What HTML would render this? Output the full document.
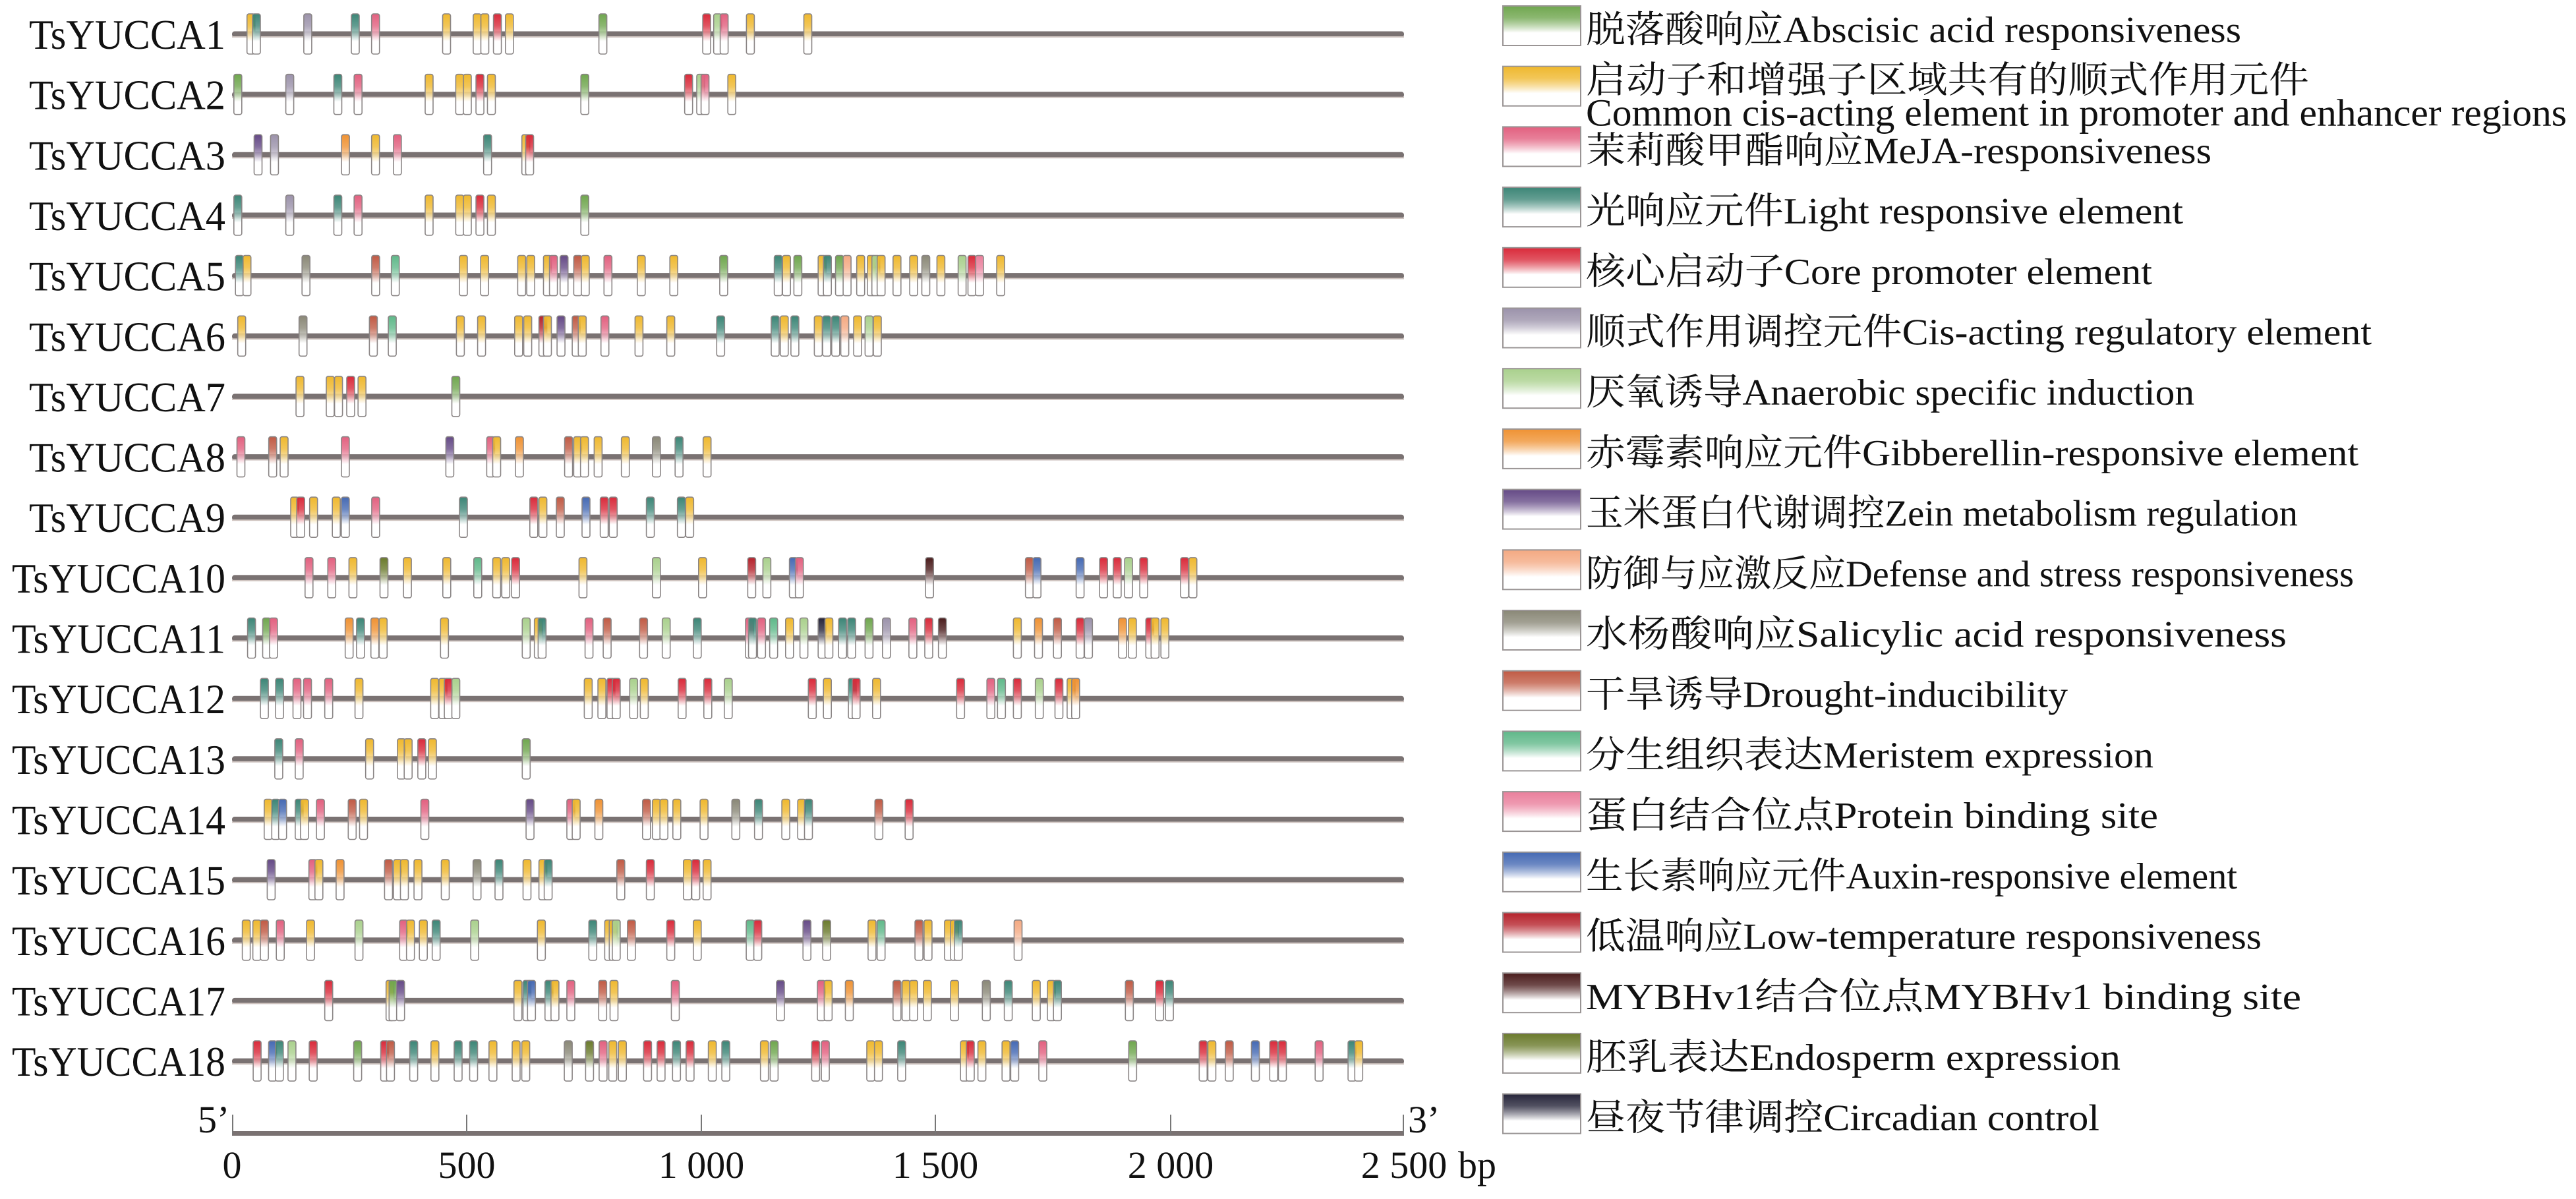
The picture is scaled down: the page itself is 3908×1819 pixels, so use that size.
<!DOCTYPE html>
<html><head><meta charset="utf-8">
<style>
html,body{margin:0;padding:0;background:#fff;}
svg{display:block;}
text{font-family:"Liberation Serif","Noto Serif CJK SC",serif;fill:#111;}
</style></head>
<body>
<svg id="s" width="3908" height="1819" viewBox="0 0 3908 1819" xmlns="http://www.w3.org/2000/svg">
<defs id="d"></defs>
<g id="rows"></g>
<g id="leg"></g>
<g id="axis">
  <rect x="352" y="1716" width="1778" height="7" fill="#7a7272"/>
  <rect x="352" y="1691" width="2" height="30" fill="#777"/>
  <rect x="707" y="1691" width="2" height="30" fill="#777"/>
  <rect x="1063" y="1691" width="2" height="30" fill="#777"/>
  <rect x="1418" y="1691" width="2" height="30" fill="#777"/>
  <rect x="1775" y="1691" width="2" height="30" fill="#777"/>
  <rect x="2128" y="1691" width="2" height="30" fill="#777"/>
  <text x="300" y="1718" font-size="58">5’</text>
  <text x="2136" y="1718" font-size="58">3’</text>
  <text x="352" y="1787" font-size="58" text-anchor="middle">0</text>
  <text x="708" y="1787" font-size="58" text-anchor="middle">500</text>
  <text x="1064" y="1787" font-size="58" text-anchor="middle">1 000</text>
  <text x="1419" y="1787" font-size="58" text-anchor="middle">1 500</text>
  <text x="1776" y="1787" font-size="58" text-anchor="middle">2 000</text>
  <text x="2130" y="1787" font-size="58" text-anchor="middle">2 500</text>
  <text x="2212" y="1787" font-size="58">bp</text>
</g>
</svg>
<script>
(function(){
var C={g:'#6fa64e',y:'#efb82e',p:'#e2607f',t:'#3c8576',r:'#d92a3a',v:'#9b92aa',lg:'#a9d08c',o:'#ef9233',pu:'#654a86',pe:'#f4a982',s:'#8a8877',d:'#c05a44',m:'#5fb889',pb:'#ea7f9c',b:'#4569b3',lt:'#b5222b',my:'#4a1c1c',e:'#6a7a2c',c:'#26253a'};
var NS='http://www.w3.org/2000/svg';
var defs=document.getElementById('d');
for(var k in C){
  var lgd=document.createElementNS(NS,'linearGradient');
  lgd.setAttribute('id','G'+k);lgd.setAttribute('x1','0');lgd.setAttribute('y1','0');lgd.setAttribute('x2','0');lgd.setAttribute('y2','1');
  lgd.innerHTML='<stop offset="0" stop-color="'+C[k]+'"/><stop offset="0.3" stop-color="'+C[k]+'" stop-opacity="0.8"/><stop offset="0.68" stop-color="#fff"/><stop offset="1" stop-color="#fff"/>';
  defs.appendChild(lgd);
}
var R=[
 [0,0.829,"452 y,462 t,556 v,643 t,680 p,810 y,866 y,880 y,903 r,925 y,1096 g,1286 r,1306 lg,1318 p,1366 y,1471 y"],
 [0,0.829,"428 g,523 v,611 t,648 p,778 y,834 y,848 y,871 r,892 y,1063 g,1253 r,1275 lg,1283 p,1332 y"],
 [0,0.829,"465 pu,495 v,625 o,680 y,720 p,885 t,955 y,962 r"],
 [0,0.829,"428 t,523 v,611 t,648 p,778 y,834 y,848 y,871 r,892 y,1063 g"],
 [340,1.148,"15 t,25 y,103 s,195 d,221 m,311 y,339 y,388 y,400 y,422 y,430 p,444 pu,462 d,472 y,502 p,546 y,589 y,655 g,727 t,738 y,753 g,785 y,792 t,808 g,818 pe,836 y,850 y,856 lg,863 y,884 y,906 y,922 s,942 y,970 lg,983 r,993 pb,1021 y"],
 [340,1.148,"18 y,99 s,192 d,217 m,307 y,335 y,384 y,396 y,416 lt,422 y,440 pu,460 d,468 y,498 p,543 y,585 y,651 t,723 t,735 y,749 t,780 y,791 t,803 t,815 pe,832 y,847 lg,858 y"],
 [340,1.148,"95 y,135 y,146 y,162 r,177 y,301 g"],
 [340,1.148,"17 p,59 d,74 y,155 p,293 pu,347 p,355 y,385 o,450 d,462 y,471 y,489 y,525 y,566 s,596 t,633 y"],
 [340,1.148,"88 y,96 r,113 y,143 y,155 b,195 p,311 t,404 r,416 y,439 d,473 b,497 r,509 r,558 t,599 t,610 y"],
 [340,1.148,"107 p,137 p,165 y,206 e,237 y,289 y,330 m,355 y,367 y,380 r,469 y,566 lg,627 y,692 lt,712 lg,747 b,755 p,927 my,1059 d,1069 b,1126 b,1157 r,1175 r,1190 lg,1210 r,1264 r,1275 y"],
 [340,1.148,"31 t,51 g,60 p,160 o,175 t,194 o,205 y,286 y,394 lg,410 y,415 t,477 p,501 d,549 d,579 lg,620 t,689 p,693 t,705 p,721 m,742 y,761 lg,785 c,794 y,812 t,824 t,847 g,870 v,905 p,926 r,944 my,1043 y,1071 o,1096 d,1126 r,1137 v,1182 o,1195 y,1218 r,1225 y,1238 y"],
 [340,1.148,"48 t,68 t,91 p,105 p,133 p,173 y,273 y,284 y,291 r,301 lg,476 y,494 y,506 r,513 r,536 lg,550 y,600 r,634 r,661 lg,772 r,792 y,825 t,830 r,857 y,968 r,1008 p,1022 m,1043 r,1072 lg,1098 r,1114 y,1120 o"],
 [340,1.148,"67 t,94 p,187 y,229 y,238 y,256 r,270 y,394 g"],
 [340,1.148,"53 y,63 t,72 b,94 t,101 y,122 p,164 d,179 y,260 p,399 pu,453 p,460 y,490 o,553 d,566 y,576 y,593 y,629 y,671 s,701 t,737 y,758 y,767 t,860 d,900 r"],
 [340,1.148,"57 pu,112 p,120 y,148 o,212 d,224 y,233 y,251 y,287 y,329 s,358 t,395 y,416 y,423 t,519 d,558 r,607 y,618 r,633 y"],
 [340,1.148,"24 y,38 y,48 d,69 p,109 y,173 lg,232 p,241 y,258 y,275 t,326 lg,414 y,482 t,503 y,509 y,513 lg,533 d,585 r,620 y,690 m,700 r,765 pu,791 e,851 y,863 m,913 d,925 y,952 y,960 y,965 t,1044 pe"],
 [340,1.148,"133 r,214 y,218 g,228 pu,383 y,395 t,401 b,424 t,432 y,453 p,495 d,510 y,591 p,730 pu,784 p,793 y,821 o,884 d,896 y,906 y,924 y,960 y,1002 s,1031 t,1068 y,1088 y,1096 t,1191 d,1231 r,1244 t"],
 [0,1.466,"262 r,278 b,285 t,298 lg,320 r,366 g,394 r,400 d,424 t,446 y,470 t,486 t,506 y,530 y,540 y,584 s,606 e,620 p,630 y,640 y,666 r,680 r,696 t,710 r,733 y,747 t,787 y,797 g,840 r,850 p,897 y,905 y,929 t,994 y,1000 r,1012 y,1037 y,1046 b,1075 p,1168 g,1241 r,1250 y,1268 d,1295 b,1314 r,1323 r,1361 p,1395 t,1402 y"]
];
var h='';
for(var i=0;i<18;i++){
  var cy=52+i*91.65;
  var lab='TsYUCCA'+(i+1);
  var tl=(i<9)?298:324;
  h+='<text x="342" y="'+(cy+22).toFixed(1)+'" font-size="64" text-anchor="end" textLength="'+tl+'" lengthAdjust="spacingAndGlyphs">'+lab+'</text>';
  h+='<rect x="352" y="'+(cy-4.5).toFixed(1)+'" width="1778" height="9" rx="4" fill="#7a7272"/>';
  h+='<rect x="352" y="'+(cy+3).toFixed(1)+'" width="1778" height="2" fill="#cfc4c0"/>';
  var r=R[i],items=r[2].split(',');
  for(var j=0;j<items.length;j++){
    var pr=items[j].trim().split(' ');
    var x=r[0]+parseFloat(pr[0])*r[1];
    h+='<rect x="'+x.toFixed(1)+'" y="'+(cy-31).toFixed(1)+'" width="12" height="61" rx="3" fill="url(#G'+pr[1]+')" stroke="#8a8585" stroke-width="1.6"/>';
  }
}
document.getElementById('rows').innerHTML=h;
var L=[
 ['g','脱落酸响应Abscisic acid responsiveness',994],
 ['y','启动子和增强子区域共有的顺式作用元件',1097],
 ['p','茉莉酸甲酯响应MeJA-responsiveness',949],
 ['t','光响应元件Light responsive element',906],
 ['r','核心启动子Core promoter element',859],
 ['v','顺式作用调控元件Cis-acting regulatory element',1192],
 ['lg','厌氧诱导Anaerobic specific induction',923],
 ['o','赤霉素响应元件Gibberellin-responsive element',1172],
 ['pu','玉米蛋白代谢调控Zein metabolism regulation',1080],
 ['pe','防御与应激反应Defense and stress responsiveness',1165],
 ['s','水杨酸响应Salicylic acid responsiveness',1063],
 ['d','干旱诱导Drought-inducibility',731],
 ['m','分生组织表达Meristem expression',861],
 ['pb','蛋白结合位点Protein binding site',868],
 ['b','生长素响应元件Auxin-responsive element',988],
 ['lt','低温响应Low-temperature responsiveness',1025],
 ['my','MYBHv1结合位点MYBHv1 binding site',1085],
 ['e','胚乳表达Endosperm expression',811],
 ['c','昼夜节律调控Circadian control',779]
];
var g='';
for(var q=0;q<L.length;q++){
  var ty=9+q*91.7;
  g+='<rect x="2280" y="'+ty.toFixed(1)+'" width="118" height="60" fill="url(#G'+L[q][0]+')" stroke="#9a9595" stroke-width="2"/>';
  if(q==1){
    g+='<text x="2406" y="'+(ty+40).toFixed(1)+'" font-size="56" textLength="1097" lengthAdjust="spacingAndGlyphs">'+L[q][1]+'</text>';
    g+='<text x="2406" y="'+(ty+90).toFixed(1)+'" font-size="58" textLength="1488" lengthAdjust="spacingAndGlyphs">Common cis-acting element in promoter and enhancer regions</text>';
  } else {
    g+='<text x="2406" y="'+(ty+55).toFixed(1)+'" font-size="56" textLength="'+L[q][2]+'" lengthAdjust="spacingAndGlyphs">'+L[q][1]+'</text>';
  }
}
document.getElementById('leg').innerHTML=g;
})();
</script>
</body></html>
